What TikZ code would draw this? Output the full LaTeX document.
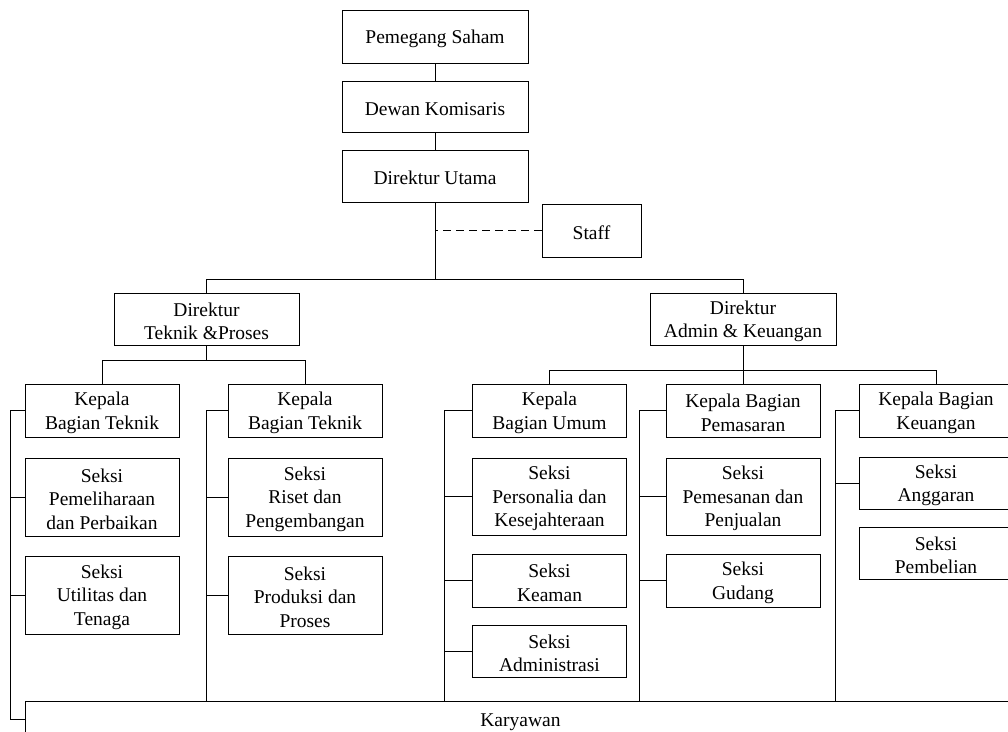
\documentclass[tikz,border=0pt]{standalone}
\usepackage{fontspec}
\setmainfont{Liberation Serif}
\newcommand\fl{\rule{0pt}{18pt}}
\begin{document}
\begin{tikzpicture}[x=1pt,y=-1pt,line width=0.9pt,
  box/.style={draw,rectangle,inner sep=0pt,align=center,font=\fontsize{19.5}{23.5}\selectfont},
  kbox/.style={box,minimum width=154,minimum height=53},
  tbox/.style={box,minimum width=186,minimum height=52}]
\useasboundingbox (0,0) rectangle (1008,731);
\clip (0,0) rectangle (1008,731);
% top
\node[tbox,minimum height=53] (ps) at (435,36.5) {\fl Pemegang Saham};
\node[tbox,minimum height=51] (dk) at (435,106.5) {\fl Dewan Komisaris};
\node[tbox] (du) at (435,176) {\fl Direktur Utama};
\node[box,minimum width=99,minimum height=53] (staff) at (591.5,230.5) {\fl Staff};
\node[tbox,minimum width=185] (dtp) at (206.5,319) {\fl Direktur\\Teknik \&Proses};
\node[tbox] (dak) at (743,319) {\fl Direktur\\Admin \& Keuangan};
% column 1
\node[kbox] (kbt1) at (102,410.5) {\fl Kepala\\Bagian Teknik};
\node[kbox,minimum height=78] (spp) at (102,497) {\fl Seksi\\Pemeliharaan\\dan Perbaikan};
\node[kbox,minimum height=78] (sut) at (102,595) {\fl Seksi\\Utilitas dan\\Tenaga};
% column 2
\node[kbox] (kbt2) at (305,410.5) {\fl Kepala\\Bagian Teknik};
\node[kbox,minimum height=78] (srp) at (305,497) {\fl Seksi\\Riset dan\\Pengembangan};
\node[kbox,minimum height=78] (spdp) at (305,595) {\fl Seksi\\Produksi dan\\Proses};
% column 3
\node[kbox] (kbu) at (549.5,410.5) {\fl Kepala\\Bagian Umum};
\node[kbox,minimum height=77] (spk) at (549.5,496.5) {\fl Seksi\\Personalia dan\\Kesejahteraan};
\node[kbox] (sk) at (549.5,580.5) {\fl Seksi\\Keaman};
\node[kbox,minimum height=52] (sa) at (549.5,651) {\fl Seksi\\Administrasi};
% column 4
\node[kbox] (kbp) at (743,410.5) {\fl Kepala Bagian\\Pemasaran};
\node[kbox,minimum height=77] (sps) at (743,496.5) {\fl Seksi\\Pemesanan dan\\Penjualan};
\node[kbox] (sg) at (743,580.5) {\fl Seksi\\Gudang};
% column 5
\node[kbox] (kbk) at (936,410.5) {\fl Kepala Bagian\\Keuangan};
\node[kbox,minimum height=52] (sang) at (936,483) {\fl Seksi\\Anggaran};
\node[kbox,minimum height=52] (spb) at (936,553) {\fl Seksi\\Pembelian};
% karyawan
\node[box,minimum width=990,minimum height=36,anchor=north west] (kary) at (25,701) {\fl Karyawan};
% top connectors
\draw (ps) -- (dk);
\draw (dk) -- (du);
\draw (du.south) -- ++(0,77) coordinate (j1);
\draw[dashed,dash pattern=on 8pt off 5pt] (staff.west) -- (staff.west -| du.south);
\draw (dtp.north) -- (dtp.north |- j1) -- (dak.north |- j1) -- (dak.north);
% teknik
\draw (dtp.south) -- ++(0,15) coordinate (j2);
\draw (kbt1.north) -- (kbt1.north |- j2) -- (kbt2.north |- j2) -- (kbt2.north);
% admin
\draw (dak.south) -- ++(0,25) coordinate (j3);
\draw (kbu.north) -- (kbu.north |- j3) -- (kbk.north |- j3) -- (kbk.north);
\draw (kbp.north) -- (kbp.north |- j3);
% column brackets
\draw (kbt1.west) -- ++(-14,0) coordinate (b1) |- (kary.west);
\draw (spp.west) -- (spp.west -| b1);
\draw (sut.west) -- (sut.west -| b1);
\draw (kbt2.west) -- ++(-21,0) coordinate (b2) -- (b2 |- kary.north);
\draw (srp.west) -- (srp.west -| b2);
\draw (spdp.west) -- (spdp.west -| b2);
\draw (kbu.west) -- ++(-28,0) coordinate (b3) -- (b3 |- kary.north);
\draw (spk.west) -- (spk.west -| b3);
\draw (sk.west) -- (sk.west -| b3);
\draw (sa.west) -- (sa.west -| b3);
\draw (kbp.west) -- ++(-26,0) coordinate (b4) -- (b4 |- kary.north);
\draw (sps.west) -- (sps.west -| b4);
\draw (sg.west) -- (sg.west -| b4);
\draw (kbk.west) -- ++(-23,0) coordinate (b5) -- (b5 |- kary.north);
\draw (sang.west) -- (sang.west -| b5);
\end{tikzpicture}
\end{document}
